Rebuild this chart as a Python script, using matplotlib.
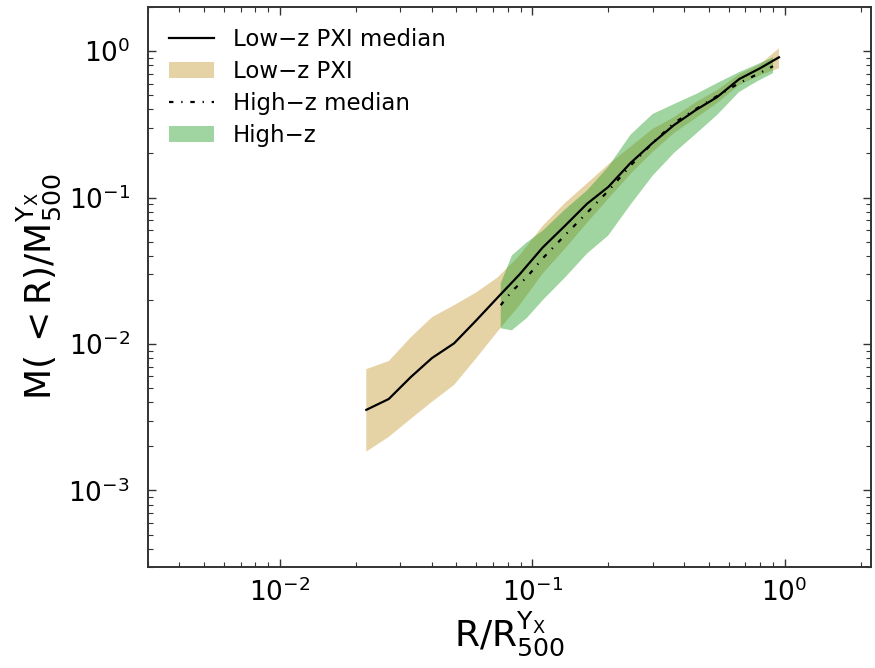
import numpy as np
import matplotlib
matplotlib.use("Agg")
from matplotlib import pyplot as plt
from matplotlib.patches import Patch
from matplotlib.lines import Line2D

# radii (R / R500) for the low-z PXI sample
r_low = [0.022, 0.027, 0.033, 0.040, 0.049, 0.060, 0.073, 0.089, 0.11, 0.135,
         0.165, 0.20, 0.245, 0.30, 0.365, 0.445, 0.54, 0.66, 0.80, 0.95]
med_low = [0.00355, 0.00421, 0.00594, 0.00800, 0.0101, 0.0145, 0.0208, 0.0298, 0.0456, 0.0643,
           0.0908, 0.118, 0.172, 0.236, 0.313, 0.396, 0.485, 0.643, 0.764, 0.907]
hi_low = [0.00674, 0.00764, 0.0111, 0.0152, 0.0184, 0.0225, 0.0285, 0.0402, 0.0640, 0.0920,
          0.125, 0.168, 0.222, 0.294, 0.354, 0.448, 0.541, 0.695, 0.813, 1.045]
lo_low = [0.00184, 0.00232, 0.00308, 0.00402, 0.00525, 0.00800, 0.0122, 0.0184, 0.0303, 0.0449,
          0.0674, 0.0981, 0.145, 0.205, 0.276, 0.349, 0.442, 0.585, 0.684, 0.764]

# radii for the high-z sample
r_high = [0.075, 0.083, 0.095, 0.11, 0.135, 0.165, 0.20, 0.245, 0.30, 0.365,
          0.445, 0.54, 0.66, 0.78, 0.90]
med_high = [0.0184, 0.0229, 0.0285, 0.0384, 0.0554, 0.0788, 0.111, 0.165, 0.236, 0.323,
            0.402, 0.493, 0.604, 0.695, 0.788]
hi_high = [0.0259, 0.0402, 0.0493, 0.0594, 0.0830, 0.112, 0.162, 0.268, 0.372, 0.435,
           0.508, 0.604, 0.718, 0.813, 0.907]
lo_high = [0.0128, 0.0124, 0.0150, 0.0199, 0.0285, 0.0415, 0.0550, 0.0893, 0.141, 0.202,
           0.272, 0.366, 0.525, 0.623, 0.706]

labels = ["Low\u2212z PXI median", "Low\u2212z PXI", "High\u2212z median", "High\u2212z"]

tan_col = "#e5d3a6"
green_col = "#2ca02c"
dashdot = (0, (2, 3.5, 0.6, 3.5))

fig = plt.figure(figsize=(8.75, 6.68), dpi=100)
ax = fig.add_axes([0.1691, 0.1512, 0.8263, 0.8383])

ax.fill_between(r_low, lo_low, hi_low, facecolor=tan_col, linewidth=0)
ax.fill_between(r_high, lo_high, hi_high, facecolor=green_col, alpha=0.45, linewidth=0)
ax.plot(r_low, med_low, color="black", lw=1.6)
ax.plot(r_high, med_high, color="black", lw=1.6, ls=dashdot)

ax.set_xscale("log")
ax.set_yscale("log")
ax.set_xlim(0.003, 2.2)
ax.set_ylim(3e-4, 2.0)

ax.set_xlabel(r"$\mathrm{R/R_{500}^{Y_X}}$", fontsize=26, labelpad=2)
ax.set_ylabel(r"$\mathrm{M(\,{<}R)/M_{500}^{Y_X}}$", fontsize=26, labelpad=4)

ax.tick_params(which="both", direction="in", top=True, right=True, color="#333333")
ax.tick_params(which="major", length=6, width=1, labelsize=19)
ax.tick_params(axis="x", which="major", pad=8)
ax.tick_params(axis="y", which="major", pad=13)
ax.tick_params(which="minor", length=3.5, width=0.8)
for s in ax.spines.values():
    s.set_linewidth(1.4)
    s.set_color("#333333")

handles = [
    Line2D([], [], color="black", lw=1.6),
    Patch(facecolor=tan_col, linewidth=0),
    Line2D([], [], color="black", lw=1.6, ls=dashdot),
    Patch(facecolor=green_col, alpha=0.45, linewidth=0),
]
ax.legend(handles, labels, loc="upper left", frameon=False, fontsize=16.5,
          handlelength=2.0, labelspacing=0.4)

fig.savefig("out.png", dpi=100)
